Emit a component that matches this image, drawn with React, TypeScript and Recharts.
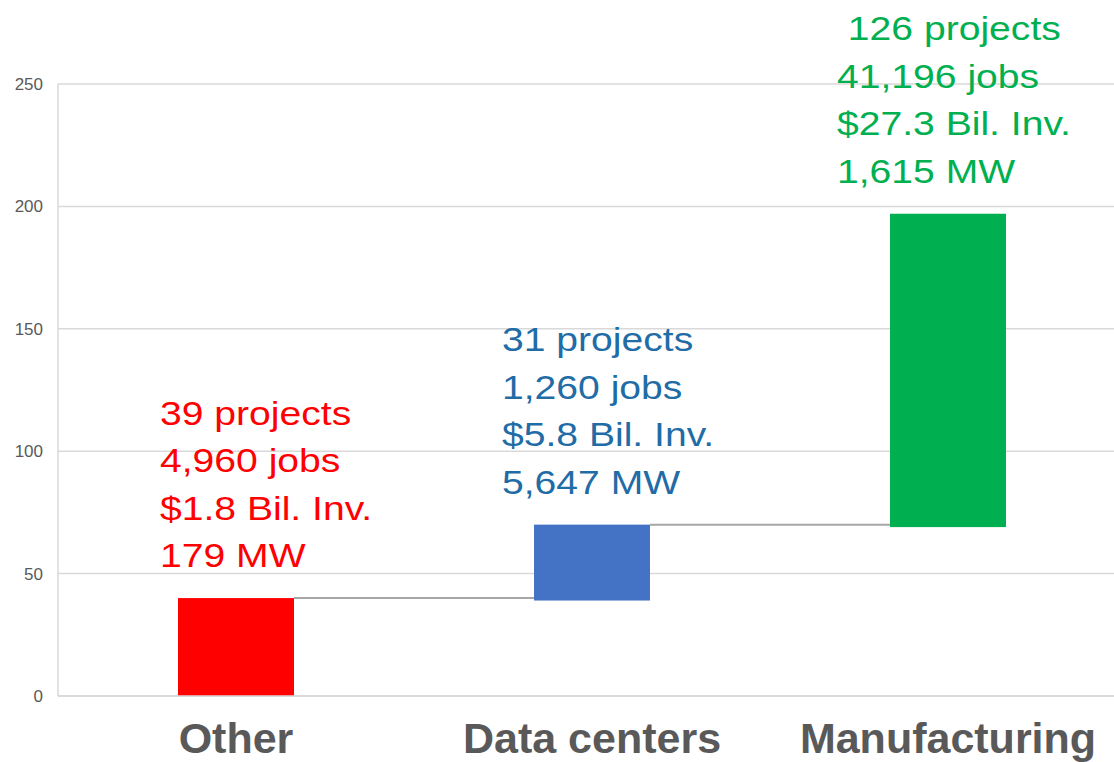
import React from 'react';
import { BarChart, Bar, XAxis, YAxis, CartesianGrid, Cell } from 'recharts';

const categories = ['Other', 'Data centers', 'Manufacturing'];
const baseValues = [0, 39, 69];
const stepValues = [40, 31, 128];
const barColors = ['#ff0000', '#4472c4', '#00b050'];
const textColors = ['#ff0000', '#1f6ca6', '#00b050'];
const projectLabels = ['39 projects', '31 projects', ' 126 projects'];
const jobLabels = ['4,960 jobs', '1,260 jobs', '41,196 jobs'];
const investLabels = ['$1.8 Bil. Inv.', '$5.8 Bil. Inv.', '$27.3 Bil. Inv.'];
const powerLabels = ['179 MW', '5,647 MW', '1,615 MW'];
const yTicks = [0, 50, 100, 150, 200, 250];

const CHART_W = 1126;
const CHART_H = 762;
const Y_W = 58;
const BAND = (CHART_W - Y_W) / categories.length;
const BAR_W = 116;
const labelShift = [-18, -32, -53];
const font = '"Liberation Sans", Arial, sans-serif';

const data = categories.map((name, i) => ({ name, base: baseValues[i], step: stepValues[i] }));

function StepShape(props: any) {
  const { x, y, width, height, index, fill } = props;
  const lines = [projectLabels[index], jobLabels[index], investLabels[index], powerLabels[index]];
  const lastBase = y - 31;
  return (
    <g>
      <rect x={x} y={y} width={width} height={height} fill={fill} />
      {index < categories.length - 1 && (
        <line x1={x + width} x2={x + width + (BAND - width)} y1={y} y2={y} stroke="#a6a6a6" strokeWidth={2} />
      )}
      <g transform={`translate(${x + labelShift[index]},0) scale(1.15,1)`}>
        {lines.map((t, k) => (
          <text key={k} x={0} y={lastBase - (3 - k) * 47.5} fill={textColors[index]} fontSize={34}
            fontFamily={font} style={{ whiteSpace: 'pre' }}>{t}</text>
        ))}
      </g>
    </g>
  );
}

function CategoryTick({ x, y, payload }: any) {
  return (
    <text x={x} y={y + 57} textAnchor="middle" fill="#595959" fontSize={43} fontWeight="bold" fontFamily={font}>
      {payload.value}
    </text>
  );
}

export default function App() {
  return (
    <div style={{ position: 'absolute', left: 0, top: 0, width: 1114, height: 762, overflow: 'hidden', background: '#fff' }}>
      <BarChart width={CHART_W} height={CHART_H} data={data} margin={{ top: 84, right: 0, bottom: 0, left: 0 }} barSize={BAR_W}>
        <CartesianGrid vertical={false} stroke="#d9d9d9" strokeWidth={1.5} />
        <XAxis dataKey="name" height={66} tickLine={false} tickSize={0} tickMargin={0}
          axisLine={{ stroke: '#d9d9d9', strokeWidth: 1.5 }} tick={<CategoryTick />} interval={0} />
        <YAxis width={Y_W} domain={[0, 250]} ticks={yTicks} tickLine={false} tickMargin={9}
          axisLine={{ stroke: '#d9d9d9', strokeWidth: 1.5 }}
          tick={{ fontSize: 17, fill: '#595959', fontFamily: font }} />
        <Bar dataKey="base" stackId="a" fill="transparent" isAnimationActive={false} />
        <Bar dataKey="step" stackId="a" shape={<StepShape />} isAnimationActive={false}>
          {data.map((d, i) => <Cell key={d.name} fill={barColors[i]} />)}
        </Bar>
      </BarChart>
    </div>
  );
}
